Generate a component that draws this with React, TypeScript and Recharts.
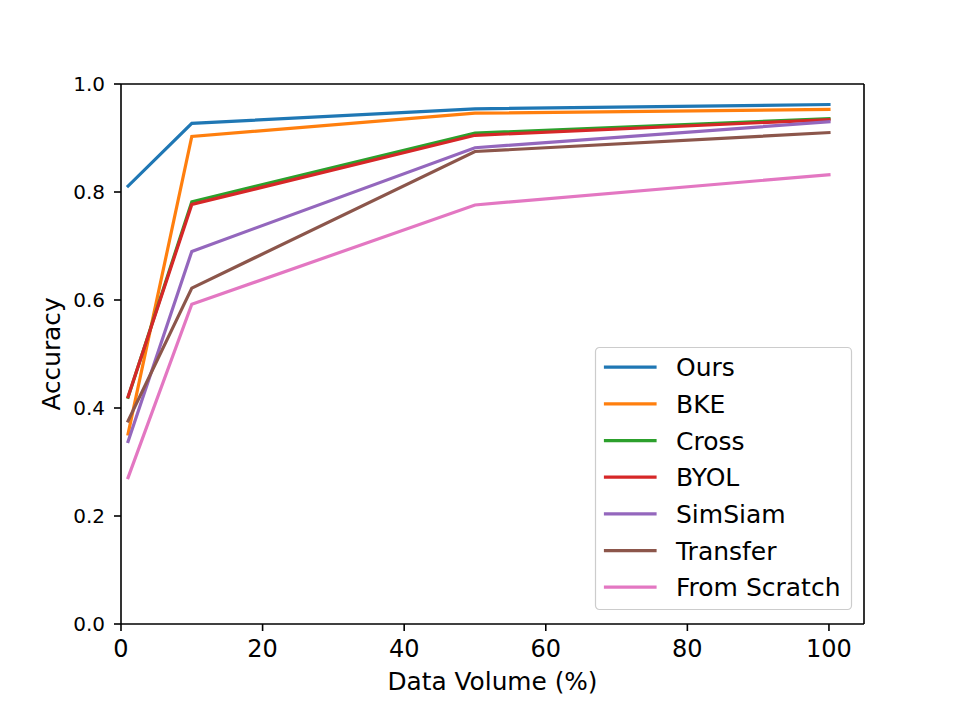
import React from 'react';
import { LineChart, Line, XAxis, YAxis, Legend, ReferenceLine } from 'recharts';

const dataVolume = [1, 10, 50, 100];
const ours = [0.811, 0.927, 0.954, 0.962];
const bke = [0.352, 0.903, 0.946, 0.953];
const cross = [0.42, 0.782, 0.909, 0.936];
const byol = [0.421, 0.777, 0.905, 0.934];
const simsiam = [0.338, 0.69, 0.882, 0.93];
const transfer = [0.376, 0.622, 0.875, 0.91];
const scratch = [0.271, 0.592, 0.776, 0.832];

const xTicks = [0, 20, 40, 60, 80, 100];
const yTicks = [0, 0.2, 0.4, 0.6, 0.8, 1.0];
const X_MAX = 104.95;

const seriesList = [
  { key: 'ours', name: 'Ours', values: ours, color: '#1f77b4' },
  { key: 'bke', name: 'BKE', values: bke, color: '#ff7f0e' },
  { key: 'cross', name: 'Cross', values: cross, color: '#2ca02c' },
  { key: 'byol', name: 'BYOL', values: byol, color: '#d62728' },
  { key: 'simsiam', name: 'SimSiam', values: simsiam, color: '#9467bd' },
  { key: 'transfer', name: 'Transfer', values: transfer, color: '#8c564b' },
  { key: 'scratch', name: 'From Scratch', values: scratch, color: '#e377c2' },
];

const data = dataVolume.map((x, i) => {
  const row: Record<string, number> = { x };
  seriesList.forEach((s) => {
    row[s.key] = s.values[i];
  });
  return row;
});

const FONT = '"DejaVu Sans", sans-serif';

const LegendBox = () => {
  const w = 257;
  const h = 263;
  return (
    <svg width={w} height={h} style={{ display: 'block', overflow: 'visible' }}>
      <rect x={0.5} y={0.5} width={w - 1} height={h - 1} rx={4} ry={4} fill="rgba(255,255,255,0.8)" stroke="#cccccc" strokeWidth={1.2} />
      {seriesList.map((s, i) => {
        const cy = 20.2 + i * 36.67;
        return (
          <g key={s.key}>
            <line x1={10.5} x2={60} y1={cy} y2={cy} stroke={s.color} strokeWidth={3.2} strokeLinecap="square" />
            <text x={81} y={cy} dy="0.36em" fontSize={25} fontFamily={FONT} fill="#000">
              {s.name}
            </text>
          </g>
        );
      })}
    </svg>
  );
};

const XLabel = (props: any) => {
  const vb = props.viewBox || {};
  return (
    <text x={vb.x + vb.width / 2} y={vb.y + 65.5} textAnchor="middle" fontSize={24.8} fontFamily={FONT} fill="#000">
      Data Volume (%)
    </text>
  );
};

const YLabel = (props: any) => {
  const vb = props.viewBox || {};
  const cx = vb.x + 59.5;
  const cy = vb.y + vb.height / 2;
  return (
    <text x={cx} y={cy} textAnchor="middle" fontSize={24.8} fontFamily={FONT} fill="#000" transform={`rotate(-90 ${cx} ${cy})`}>
      Accuracy
    </text>
  );
};

export default function App() {
  return (
    <div style={{ position: 'absolute', left: 0, top: 0, width: 961, height: 703, background: '#fff' }}>
      <LineChart width={961} height={703} data={data} margin={{ top: 84, right: 97, bottom: 0, left: 0 }}>
        <XAxis
          dataKey="x"
          type="number"
          domain={[0, X_MAX]}
          ticks={xTicks}
          allowDataOverflow
          height={79}
          axisLine={{ stroke: '#000', strokeWidth: 1.6 }}
          tickLine={{ stroke: '#000', strokeWidth: 1.6 }}
          tickSize={7}
          tickMargin={9}
          tick={{ fill: '#000', fontSize: 24, fontFamily: FONT }}
          label={<XLabel />}
        />
        <YAxis
          type="number"
          domain={[0, 1]}
          ticks={yTicks}
          allowDataOverflow
          width={121}
          axisLine={{ stroke: '#000', strokeWidth: 1.6 }}
          tickLine={{ stroke: '#000', strokeWidth: 1.6 }}
          tickSize={7}
          tickMargin={9}
          tickFormatter={(v: number) => v.toFixed(1)}
          tick={{ fill: '#000', fontSize: 20, fontFamily: FONT }}
          label={<YLabel />}
        />
        <ReferenceLine y={1} stroke="#000" strokeWidth={1.6} ifOverflow="visible" />
        <ReferenceLine x={X_MAX} stroke="#000" strokeWidth={1.6} ifOverflow="visible" />
        {seriesList.map((s) => (
          <Line
            key={s.key}
            dataKey={s.key}
            name={s.name}
            type="linear"
            stroke={s.color}
            strokeWidth={3.2}
            strokeLinecap="square"
            dot={false}
            activeDot={false}
            isAnimationActive={false}
          />
        ))}
        <Legend
          layout="horizontal"
          verticalAlign="middle"
          align="center"
          content={<LegendBox />}
          wrapperStyle={{ left: 595, top: 346.5, width: 257, height: 263 }}
        />
      </LineChart>
    </div>
  );
}
